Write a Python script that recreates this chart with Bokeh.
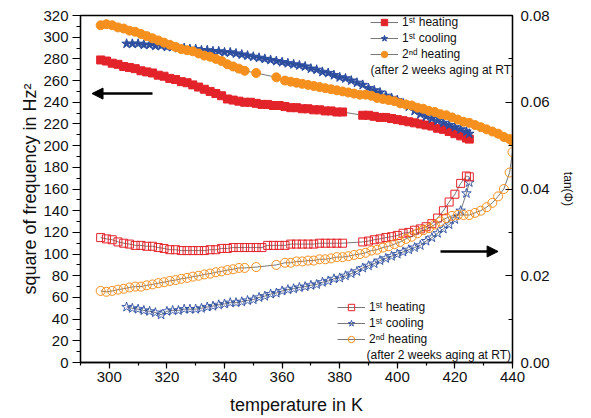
from bokeh.plotting import figure
from bokeh.models import (Range1d, LinearAxis, SingleIntervalTicker, NumeralTickFormatter,
                          Legend, LegendItem, Label, Arrow, NormalHead)
from bokeh.embed import file_html
from bokeh.resources import INLINE

# ---------------- data ----------------
# 1st heating (temperature in K)
T_heat1 = [297, 299, 301, 303, 305, 307, 309, 311, 313, 315, 317, 319, 321, 323, 325, 327, 329, 331,
           333, 335, 337, 339, 341, 343, 345, 347, 349, 351, 353, 355, 357, 359, 361, 363, 365, 367,
           369, 371, 373, 375, 377, 379, 381,
           388, 390, 392, 394, 396, 398, 400, 402, 404, 406, 408, 410, 412, 414, 416, 418, 420, 422, 424, 425]
f2_heat1 = [279, 278, 276, 275, 273, 272, 271, 269, 268, 267, 265, 264, 262, 261, 259, 258, 256, 254,
            252, 250, 248, 246, 243, 242, 241, 240, 240, 239, 238, 238, 237, 237, 236, 235, 235, 234,
            234, 233, 233, 232, 232, 231, 231,
            228, 228, 227, 226, 226, 225, 224, 223, 222, 221, 220, 219, 218, 216, 215, 213, 211, 209, 207, 206]
tan_heat1 = [0.0288, 0.0285, 0.0283, 0.0278, 0.0275, 0.0273, 0.0270, 0.0270, 0.0268, 0.0268, 0.0265, 0.0263,
             0.0260, 0.0260, 0.0258, 0.0258, 0.0258, 0.0258, 0.0258, 0.0260, 0.0260, 0.0263, 0.0263, 0.0265,
             0.0265, 0.0265, 0.0265, 0.0265, 0.0265, 0.0270, 0.0270, 0.0270, 0.0270, 0.0273, 0.0273, 0.0273,
             0.0273, 0.0273, 0.0275, 0.0275, 0.0275, 0.0275, 0.0275,
             0.0278, 0.0280, 0.0283, 0.0285, 0.0288, 0.0290, 0.0293, 0.0298, 0.0300, 0.0305, 0.0308, 0.0313,
             0.0320, 0.0333, 0.0350, 0.0370, 0.0388, 0.0413, 0.0430, 0.0428]

# 1st cooling
T_cool1 = [306, 308, 310, 312, 314, 316, 318, 320, 322, 324, 326, 328, 330, 332, 334, 336, 338, 340,
           342, 344, 346, 348, 350, 352, 354, 356, 358, 360, 362, 364, 366, 368, 370, 372, 374, 376,
           378, 380, 382, 384, 386, 388, 390, 392, 394, 396, 398, 400, 402, 404, 406, 408, 410, 412,
           414, 416, 418, 420, 422, 424, 425]
f2_cool1 = [294, 294, 294, 293, 293, 292, 292, 291, 291, 290, 290, 289, 289, 288, 288, 287, 287, 286,
            286, 285, 284, 283, 282, 281, 280, 279, 278, 277, 276, 275, 274, 273, 271, 270, 268, 267,
            265, 263, 262, 260, 258, 256, 253, 251, 249, 246, 244, 242, 239, 236, 232, 229, 227, 225,
            223, 221, 219, 217, 215, 213, 211]
tan_cool1 = [0.0128, 0.0125, 0.0123, 0.0120, 0.0118, 0.0115, 0.0110, 0.0118, 0.0120, 0.0120, 0.0123, 0.0123,
             0.0123, 0.0125, 0.0128, 0.0130, 0.0133, 0.0135, 0.0138, 0.0138, 0.0140, 0.0143, 0.0145, 0.0150,
             0.0153, 0.0158, 0.0160, 0.0165, 0.0168, 0.0170, 0.0173, 0.0175, 0.0178, 0.0180, 0.0185, 0.0188,
             0.0193, 0.0195, 0.0200, 0.0205, 0.0210, 0.0218, 0.0223, 0.0228, 0.0235, 0.0240, 0.0245, 0.0250,
             0.0255, 0.0260, 0.0265, 0.0270, 0.0280, 0.0288, 0.0298, 0.0308, 0.0318, 0.0330, 0.0350, 0.0390,
             0.0415]

# 2nd heating (after 2 weeks aging at RT)
T_heat2 = [297, 299, 301, 303, 305, 307, 309, 311, 313, 315, 317, 319, 321, 323, 325, 327, 329, 331,
           333, 335, 337, 339, 341, 343, 345, 347,
           351, 358,
           361, 363, 365, 367, 369, 371, 373, 375, 377, 379, 381, 383, 385, 387, 389, 391, 393, 395,
           397, 399, 401, 403, 405, 407, 409, 411, 413, 415, 417, 419, 421, 423, 425, 427, 429, 431,
           433, 435, 437, 439, 440]
f2_heat2 = [311, 312, 311, 309, 308, 306, 305, 303, 301, 299, 297, 295, 293, 291, 289, 288, 287, 285,
            283, 282, 280, 278, 275, 273, 271, 269,
            267, 263,
            260, 259, 258, 257, 256, 255, 254, 253, 252, 251, 250, 249, 248, 247, 247, 246, 244, 243,
            242, 241, 239, 238, 237, 235, 234, 232, 231, 229, 228, 226, 224, 222, 221, 219, 217, 215,
            213, 211, 208, 206, 204]
tan_heat2 = [0.0165, 0.0163, 0.0165, 0.0168, 0.0170, 0.0173, 0.0175, 0.0175, 0.0178, 0.0180, 0.0183, 0.0185,
             0.0188, 0.0190, 0.0193, 0.0195, 0.0198, 0.0200, 0.0203, 0.0205, 0.0208, 0.0210, 0.0213, 0.0215,
             0.0218, 0.0218,
             0.0220, 0.0225,
             0.0230, 0.0230, 0.0233, 0.0233, 0.0235, 0.0235, 0.0238, 0.0238, 0.0240, 0.0243, 0.0243, 0.0245,
             0.0248, 0.0250, 0.0253, 0.0258, 0.0260, 0.0265, 0.0268, 0.0273, 0.0278, 0.0285, 0.0290, 0.0298,
             0.0305, 0.0310, 0.0318, 0.0325, 0.0333, 0.0338, 0.0340, 0.0340, 0.0340, 0.0345, 0.0350, 0.0358,
             0.0368, 0.0383, 0.0400, 0.0438, 0.0485]

# annotation arrows (data units): (x_start, x_end, y)
arrow_left = (315, 294, 248)        # points to left axis
arrow_right = (415, 435, 0.0256)    # points to right axis (tan)

# ---------------- styling ----------------
FONT = "Liberation Sans"
RED = "#E3232A"
BLUE = "#2D4D9E"
ORANGE = "#F5901E"
CONN = "#555555"

p = figure(width=583, height=417, x_range=Range1d(290, 440), y_range=Range1d(0, 320),
           output_backend="svg", toolbar_location=None,
           min_border_left=80, min_border_right=71, min_border_top=15, min_border_bottom=54)
p.extra_y_ranges = {"tan": Range1d(0, 0.08)}
p.grid.visible = False
p.outline_line_color = "black"
p.outline_line_width = 1.3
p.background_fill_color = "white"
p.border_fill_color = "white"


def style_axis(ax, label, label_size):
    ax.axis_line_color = "black"
    ax.axis_line_width = 1.3
    ax.major_tick_line_width = 1.2
    ax.minor_tick_line_width = 1.2
    ax.major_tick_line_color = "black"
    ax.minor_tick_line_color = "black"
    ax.major_label_text_font = FONT
    ax.major_label_text_font_size = "15px"
    ax.major_label_text_color = "#111111"
    ax.axis_label = label
    ax.axis_label_text_font = FONT
    ax.axis_label_text_font_size = label_size
    ax.axis_label_text_font_style = "normal"
    ax.axis_label_text_color = "#111111"


xa = p.xaxis[0]
xa.ticker = SingleIntervalTicker(interval=20, num_minor_ticks=2)
style_axis(xa, "temperature in K", "18px")
xa.major_tick_out = 6
xa.major_tick_in = 0
xa.minor_tick_out = 3
xa.minor_tick_in = 0
xa.major_label_standoff = 3
xa.axis_label_standoff = 10

ya = p.yaxis[0]
ya.ticker = SingleIntervalTicker(interval=20, num_minor_ticks=2)
style_axis(ya, "square of frequency in Hz²", "18px")
ya.major_tick_out = 8
ya.major_tick_in = 0
ya.minor_tick_out = 4
ya.minor_tick_in = 0
ya.major_label_standoff = 4
ya.axis_label_standoff = 0

ra = LinearAxis(y_range_name="tan",
                ticker=SingleIntervalTicker(interval=0.02, num_minor_ticks=2),
                formatter=NumeralTickFormatter(format="0.00"))
style_axis(ra, "tan(Φ)", "12px")
ra.major_tick_out = 0
ra.major_tick_in = 7
ra.minor_tick_out = 0
ra.minor_tick_in = 4
ra.major_label_standoff = 8
ra.axis_label_standoff = 8
p.add_layout(ra, "right")


def series(x, y, marker, size, color, filled, rng=None, lw=1.0):
    kw = {} if rng is None else {"y_range_name": rng}
    ln = p.line(x, y, line_color=CONN, line_width=0.8, **kw)
    sc = p.scatter(x, y, marker=marker, size=size, line_color=color,
                   fill_color=color if filled else None, line_width=lw, **kw)
    return [ln, sc]


# open symbols: tan(phi) on right axis
r_bo = series(T_cool1, tan_cool1, "star", 10, BLUE, False, "tan", 0.9)
r_ro = series(T_heat1, tan_heat1, "square", 8, RED, False, "tan", 1.0)
r_oo = series(T_heat2, tan_heat2, "circle", 9, ORANGE, False, "tan", 1.0)
# filled symbols: square of frequency on left axis
r_rf = series(T_heat1, f2_heat1, "square", 8, RED, True)
r_bf = series(T_cool1, f2_cool1, "star", 10, BLUE, True)
r_of = series(T_heat2, f2_heat2, "circle", 9, ORANGE, True)


def make_legend(items, loc):
    lg = Legend(items=items, location=loc, orientation="vertical")
    lg.glyph_width = 28
    lg.glyph_height = 16
    lg.label_height = 16
    lg.spacing = 0
    lg.padding = 0
    lg.margin = 0
    lg.label_standoff = 4
    lg.border_line_alpha = 0
    lg.background_fill_alpha = 0
    lg.label_text_font = FONT
    lg.label_text_font_size = "12px"
    lg.label_text_color = "#111111"
    return lg


# legend location = bottom-left corner in px from the frame's bottom-left
top_leg = make_legend([LegendItem(label="1ˢᵗ heating", renderers=r_rf),
                       LegendItem(label="1ˢᵗ cooling", renderers=r_bf),
                       LegendItem(label="2ⁿᵈ heating", renderers=r_of)], (290, 300))
bot_leg = make_legend([LegendItem(label="1ˢᵗ heating", renderers=r_ro),
                       LegendItem(label="1ˢᵗ cooling", renderers=r_bo),
                       LegendItem(label="2ⁿᵈ heating", renderers=r_oo)], (257, 15))
p.add_layout(top_leg)
p.add_layout(bot_leg)

note = "(after 2 weeks aging at RT)"
for (lx, ly) in [(290, 293), (286, 8)]:
    p.add_layout(Label(x=lx, y=ly, x_units="screen", y_units="screen", text=note,
                       text_font=FONT, text_font_size="12px", text_baseline="middle",
                       text_color="#111111"))

p.add_layout(Arrow(end=NormalHead(size=11, fill_color="black", line_color="black"),
                   x_start=arrow_left[0], y_start=arrow_left[2],
                   x_end=arrow_left[1], y_end=arrow_left[2],
                   line_width=2.5, line_color="black"))
p.add_layout(Arrow(end=NormalHead(size=11, fill_color="black", line_color="black"),
                   x_start=arrow_right[0], y_start=arrow_right[2],
                   x_end=arrow_right[1], y_end=arrow_right[2],
                   y_range_name="tan", line_width=2.5, line_color="black"))

open("out.html", "w").write(file_html(p, INLINE))
